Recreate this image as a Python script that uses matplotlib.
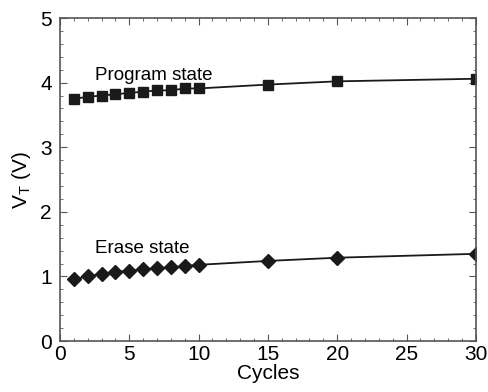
import matplotlib
matplotlib.use("Agg")
import matplotlib.pyplot as plt
from matplotlib.ticker import MultipleLocator

plt.rcParams['font.family'] = ['Liberation Sans', 'DejaVu Sans']

# data
cycles = [1, 2, 3, 4, 5, 6, 7, 8, 9, 10, 15, 20, 30]
program_vt = [3.75, 3.78, 3.80, 3.82, 3.84, 3.86, 3.88, 3.88, 3.91, 3.91, 3.97, 4.02, 4.06]
erase_vt = [0.96, 1.00, 1.04, 1.07, 1.09, 1.11, 1.13, 1.14, 1.16, 1.18, 1.24, 1.29, 1.35]

fig = plt.figure(figsize=(4.88, 3.92), dpi=100)
ax = fig.add_axes([0.123, 0.130, 0.852, 0.824])

ax.plot(cycles, program_vt, color='#1a1a1a', lw=1.3, marker='s', ms=7)
ax.plot(cycles, erase_vt, color='#1a1a1a', lw=1.3, marker='D', ms=7.5)

ax.text(2.5, 4.04, 'Program state', fontsize=13.5)
ax.text(2.5, 1.37, 'Erase state', fontsize=13.5)

ax.set_xlim(0, 30)
ax.set_ylim(0, 5)
ax.xaxis.set_major_locator(MultipleLocator(5))
ax.xaxis.set_minor_locator(MultipleLocator(1))
ax.yaxis.set_major_locator(MultipleLocator(1))
ax.yaxis.set_minor_locator(MultipleLocator(0.2))
ax.tick_params(which='both', direction='in', top=True, right=True, color='#555555')
ax.tick_params(which='major', length=5, labelsize=15, pad=3)
ax.tick_params(axis='y', which='major', pad=6)
ax.tick_params(which='minor', length=2.5)
for s in ax.spines.values():
    s.set_color('#555555')
    s.set_linewidth(1.2)

ax.set_xlabel('Cycles', fontsize=15, labelpad=0)
ax.set_ylabel('V$_\\mathregular{T}$ (V)', fontsize=15, labelpad=5)

fig.savefig('out.png', dpi=100)
